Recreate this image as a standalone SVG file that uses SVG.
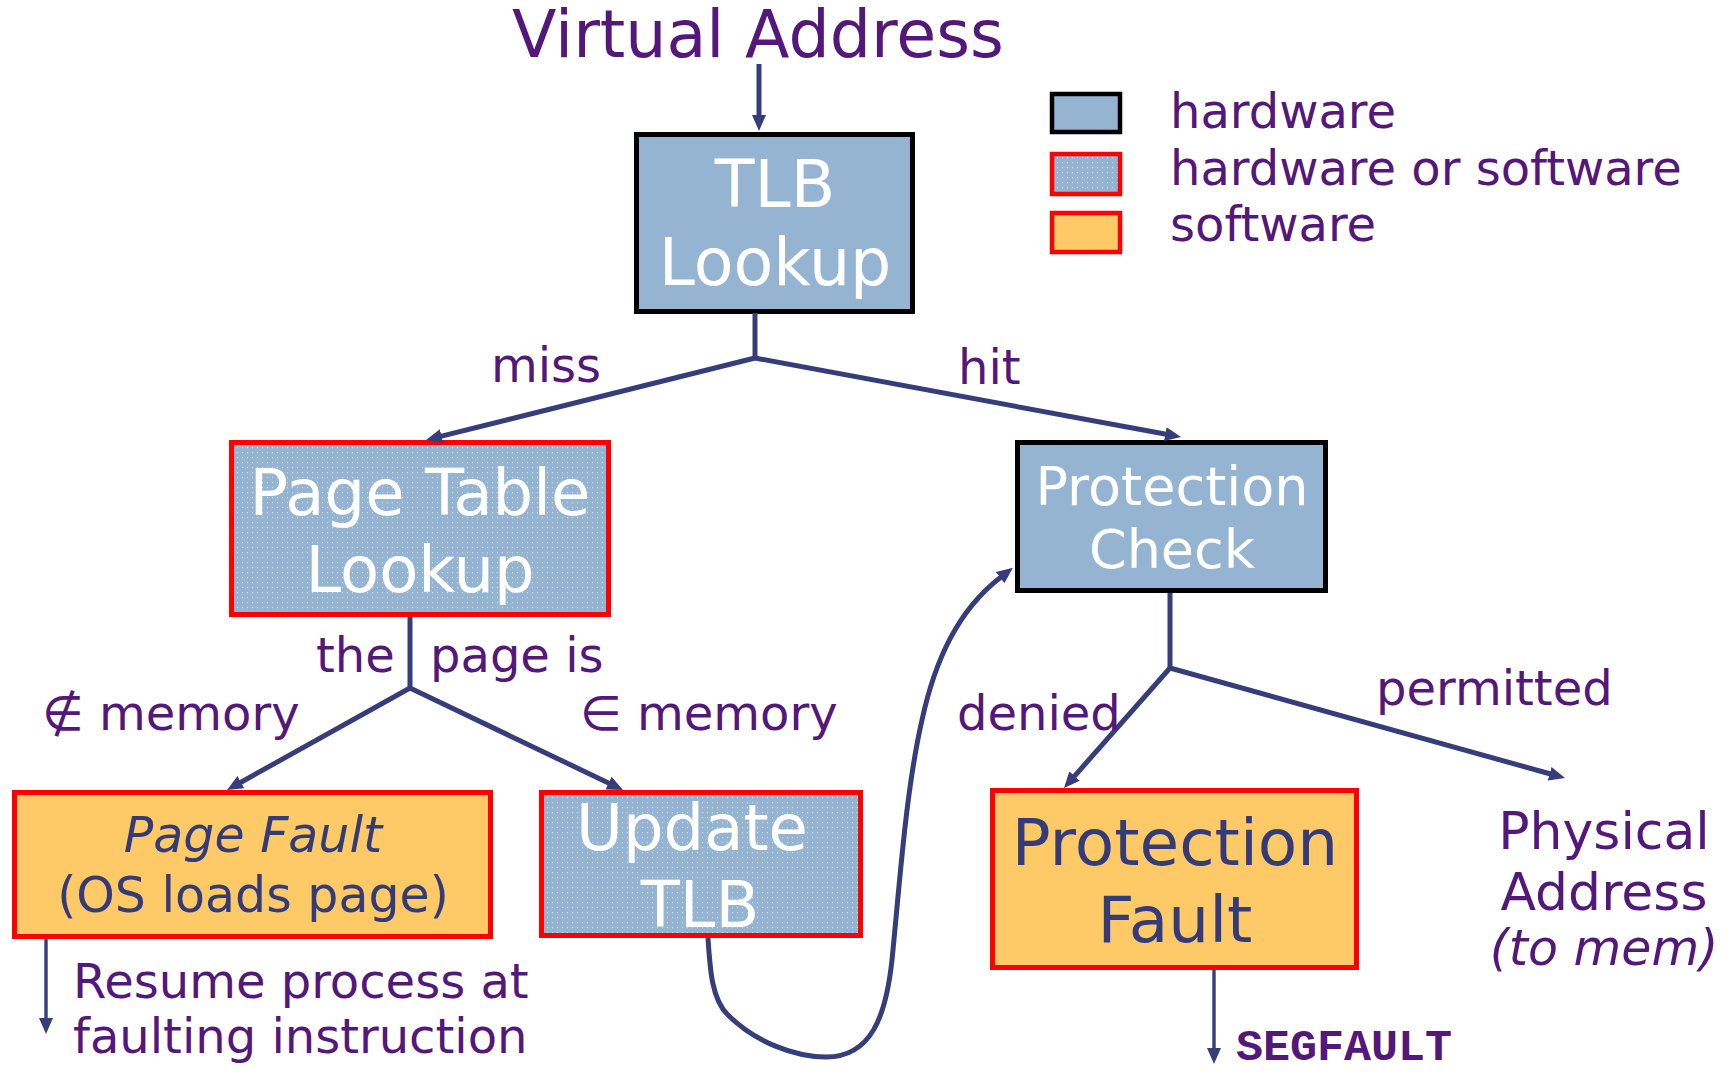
<svg xmlns="http://www.w3.org/2000/svg" width="1735" height="1074" viewBox="0 0 1735 1074">
<style>
.lbl{font-family:"DejaVu Sans","Verdana",sans-serif;font-size:48px;fill:#54177A}
.box-hw{fill:#95B4D1;stroke:#000;stroke-width:5}
.box-hs{fill:url(#dots);stroke:#FF0000;stroke-width:5}
.box-sw{fill:#FECA67;stroke:#FF0000;stroke-width:5}
.wt{font-family:"DejaVu Sans","Verdana",sans-serif;fill:#FFFFFF;text-anchor:middle}
.nt{font-family:"DejaVu Sans","Verdana",sans-serif;fill:#343B7A;text-anchor:middle}
.con{fill:none;stroke:#363D7B;stroke-width:5}
.thin{fill:none;stroke:#363D7B;stroke-width:3.4}
</style>
<defs>
<pattern id="dots" width="5" height="5" patternUnits="userSpaceOnUse">
<rect width="5" height="5" fill="#95B4D1"/>
<rect x="2" y="2" width="1" height="1.2" fill="#FFFFFF" fill-opacity="0.55"/>
</pattern>
<marker id="ah" markerUnits="userSpaceOnUse" markerWidth="16" markerHeight="14" refX="1" refY="7" orient="auto">
<path d="M0,0 L16,7 L0,14 z" fill="#363D7B"/>
</marker>
</defs>

<g id="title">
<text x="758" y="57" style="font-family:'DejaVu Sans','Verdana',sans-serif;font-size:65px;fill:#54177A;text-anchor:middle">Virtual Address</text>
</g>

<g id="legend">
<rect x="1052" y="94" width="68" height="38" class="box-hw" style="stroke-width:4.5"/>
<rect x="1052" y="154" width="68" height="40" class="box-hs" style="stroke-width:4.5"/>
<rect x="1052" y="213" width="68" height="39" class="box-sw" style="stroke-width:4.5"/>
<text x="1170" y="128" class="lbl">hardware</text>
<text x="1170" y="185" class="lbl">hardware or software</text>
<text x="1170" y="241" class="lbl">software</text>
</g>

<g id="tlb-lookup">
<rect x="636.5" y="134.5" width="276" height="177" class="box-hw"/>
<text x="775" y="207" class="wt" font-size="65">TLB</text>
<text x="775" y="285" class="wt" font-size="65">Lookup</text>
</g>

<g id="page-table-lookup">
<rect x="231.5" y="442.5" width="377" height="172" class="box-hs"/>
<text x="420" y="515" class="wt" font-size="64">Page Table</text>
<text x="420" y="592" class="wt" font-size="64">Lookup</text>
</g>

<g id="protection-check">
<rect x="1017.5" y="442.5" width="308" height="148" class="box-hw"/>
<text x="1172" y="505" class="wt" font-size="54">Protection</text>
<text x="1172" y="568" class="wt" font-size="54">Check</text>
</g>

<g id="page-fault">
<rect x="14.5" y="792.5" width="476" height="144" class="box-sw"/>
<text x="253" y="852" class="nt" font-size="49" font-style="italic">Page Fault</text>
<text x="253" y="912" class="nt" font-size="49">(OS loads page)</text>
</g>

<g id="update-tlb">
<rect x="541.5" y="792.5" width="319" height="143" class="box-hs"/>
<text x="692" y="850" class="wt" font-size="64">Update</text>
<text x="700" y="927" class="wt" font-size="64">TLB</text>
</g>

<g id="protection-fault">
<rect x="992.5" y="790.5" width="364" height="177" class="box-sw"/>
<text x="1175" y="865" class="nt" font-size="64.5">Protection</text>
<text x="1175" y="942" class="nt" font-size="64.5">Fault</text>
</g>

<g id="physical-address">
<text x="1604" y="849" class="lbl" style="font-size:52px;text-anchor:middle">Physical</text>
<text x="1604" y="910" class="lbl" style="font-size:52px;text-anchor:middle">Address</text>
<text x="1604" y="965" class="lbl" style="font-size:49px;text-anchor:middle;font-style:italic">(to mem)</text>
</g>

<g id="connectors">
<path class="con" d="M759,64 L759,116" marker-end="url(#ah)"/>
<path class="con" d="M755,313 L755,358"/>
<path class="con" d="M755,358 L440.6,436.4" marker-end="url(#ah)"/>
<path class="con" d="M755,358 L1166.3,434.3" marker-end="url(#ah)"/>
<path class="con" d="M410,617 L410,688"/>
<path class="con" d="M410,688 L240.1,782.7" marker-end="url(#ah)"/>
<path class="con" d="M410,688 L609.5,783.5" marker-end="url(#ah)"/>
<path class="con" d="M1170,593 L1170,668"/>
<path class="con" d="M1170,668 L1073.9,776.8" marker-end="url(#ah)"/>
<path class="con" d="M1170,668 L1550.6,774" marker-end="url(#ah)"/>
<path class="thin" d="M46,939 L46,1019" marker-end="url(#ah)"/>
<path class="thin" d="M1214,970 L1214,1049" marker-end="url(#ah)"/>
<path class="con" d="M708,938 C710,970 712,1000 728,1015 C755,1042 795,1057 826,1057 C872,1057 886,1015 892,960 C900,880 906,790 922,720 C935,660 958,610 1001,577" marker-end="url(#ah)"/>
</g>

<g id="labels">
<text x="491" y="382" class="lbl">miss</text>
<text x="958" y="384" class="lbl">hit</text>
<text x="316" y="672" class="lbl">the</text>
<text x="430" y="672" class="lbl">page is</text>
<text x="42" y="730" class="lbl">∉ memory</text>
<text x="580" y="730" class="lbl">∈ memory</text>
<text x="957" y="730" class="lbl">denied</text>
<text x="1376" y="705" class="lbl">permitted</text>
<text x="73" y="998" class="lbl">Resume process at</text>
<text x="73" y="1053" class="lbl">faulting instruction</text>
<text x="1236" y="1060" style="font-family:'Liberation Mono','Courier New',monospace;font-weight:bold;font-size:45px;fill:#54177A">SEGFAULT</text>
</g>
</svg>
